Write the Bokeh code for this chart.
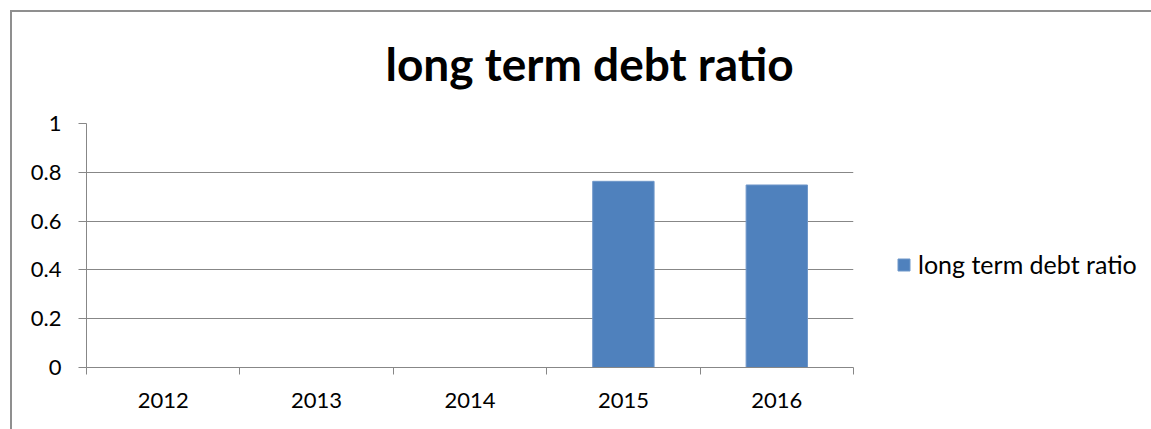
from bokeh.plotting import figure
from bokeh.models import FixedTicker, Legend, LegendItem
from bokeh.embed import file_html
from bokeh.resources import INLINE
import numpy as np

years = ["2012", "2013", "2014", "2015", "2016"]
values = [0, 0, 0, 0.763, 0.748]
y_ticks = [0, 0.2, 0.4, 0.6, 0.8, 1.0]
y_tick_labels = ["0", "0.2", "0.4", "0.6", "0.8", "1"]
title_text = "long term debt ratio"
series_name = "long term debt ratio"

FONT = "Lato"
GRID = "#878787"
BAR = "#4F81BD"
EDGE = "#8f8f8f"

xs = np.arange(len(years)) + 0.5

chart_border = (f"linear-gradient({EDGE},{EDGE}) 10px 10px / 2px 1000px no-repeat, "
                f"linear-gradient({EDGE},{EDGE}) 10px 10px / 2000px 2px no-repeat, white")

p = figure(frame_width=767, frame_height=244, x_range=(0, len(years)), y_range=(0, 1),
           output_backend="svg", toolbar_location=None,
           min_border_left=86, min_border_right=290, min_border_top=123, min_border_bottom=62,
           styles={"background": chart_border})
p.outline_line_color = None
p.background_fill_color = "white"
p.border_fill_color = None

r = p.vbar(x=xs, top=values, width=0.4, fill_color=BAR, line_color="#6f97c9", line_width=1)

# title
p.title.text = title_text
p.title.text_font = FONT
p.title.text_font_style = "bold"
p.title.text_font_size = "46px"
p.title.text_color = "black"
p.title.align = "left"
p.title.offset = 299
p.title.standoff = 66

# x axis
xa = p.xaxis[0]
xa.ticker = FixedTicker(ticks=list(xs), minor_ticks=list(range(len(years) + 1)))
xa.major_label_overrides = {float(x): y for x, y in zip(xs, years)}
xa.major_tick_out = 0
xa.major_tick_in = 0
xa.minor_tick_out = 7
xa.minor_tick_in = 0
xa.minor_tick_line_color = GRID
xa.axis_line_color = GRID
xa.major_label_text_font = FONT
xa.major_label_text_font_size = "22px"
xa.major_label_text_color = "black"
xa.major_label_standoff = 18

# y axis
ya = p.yaxis[0]
ya.ticker = FixedTicker(ticks=y_ticks, minor_ticks=[])
ya.major_label_overrides = {float(t): l for t, l in zip(y_ticks, y_tick_labels)}
ya.major_tick_out = 8
ya.major_tick_in = 0
ya.major_tick_line_color = GRID
ya.axis_line_color = GRID
ya.major_label_text_font = FONT
ya.major_label_text_font_size = "22px"
ya.major_label_text_color = "black"
ya.major_label_standoff = 17

p.xgrid.grid_line_color = None
p.ygrid.grid_line_color = GRID
p.ygrid.ticker = FixedTicker(ticks=y_ticks)

legend = Legend(items=[LegendItem(label=series_name, renderers=[r])],
                location=(43, 88), orientation="vertical",
                padding=0, margin=0, spacing=0,
                glyph_width=15, glyph_height=15, label_standoff=7,
                label_text_font=FONT, label_text_font_size="25px", label_text_color="black",
                border_line_alpha=0, background_fill_alpha=0)
p.add_layout(legend, "right")

open("out.html", "w").write(file_html(p, INLINE))
